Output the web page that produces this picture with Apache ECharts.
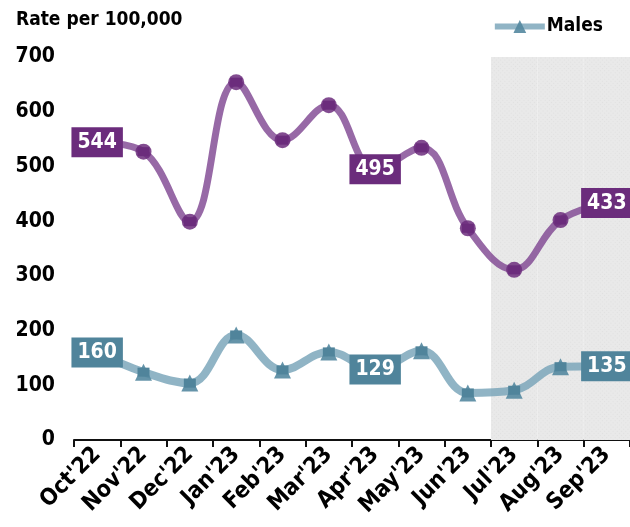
<!DOCTYPE html>
<html>
<head>
<meta charset="utf-8">
<script src="https://cdn.jsdelivr.net/npm/echarts@6/dist/echarts.min.js"></script>
<style>
  html, body { margin: 0; padding: 0; background: #fff; }
  #chart { width: 630px; height: 527px; }
</style>
</head>
<body>
<div id="chart"></div>
<script>
var months = ["Oct'22", "Nov'22", "Dec'22", "Jan'23", "Feb'23", "Mar'23", "Apr'23", "May'23", "Jun'23", "Jul'23", "Aug'23", "Sep'23"];
var females = [544, 527, 399, 654, 548, 612, 495, 534, 387, 311, 402, 433];
var males = [160, 124, 104, 192, 128, 161, 129, 163, 86, 91, 134, 135];
// months that get the grey band (Jul-Sep)
var shaded = [null, null, null, null, null, null, null, null, null, 700, 700, 700];
var labelled = [0, 6, 11];

var font = '"DejaVu Sans Condensed", "Liberation Sans Narrow", sans-serif';

function labelFor(color) {
  return {
    show: true,
    position: 'inside',
    formatter: function (p) {
      return labelled.indexOf(p.dataIndex) >= 0 ? p.value : '';
    },
    backgroundColor: color,
    color: '#fff',
    fontFamily: font,
    fontWeight: 'bold',
    fontSize: 21,
    padding: [5, 6, 4, 6]
  };
}

var chart = echarts.init(document.getElementById('chart'));
chart.setOption({
  animation: false,
  title: {
    text: 'Rate per 100,000',
    left: 11,
    top: 6,
    textStyle: { fontFamily: font, fontWeight: 'bold', fontSize: 19, color: '#000' }
  },
  legend: {
    data: ['Males'],
    right: 22,
    top: 12,
    itemWidth: 50,
    itemHeight: 16,
    itemGap: 4,
    lineStyle: { width: 6 },
    textStyle: { fontFamily: font, fontWeight: 'bold', fontSize: 19, color: '#000', padding: [0, 0, 0, -3] }
  },
  grid: { left: 74, right: 0, top: 57, bottom: 87 },
  xAxis: {
    type: 'category',
    data: months,
    boundaryGap: true,
    axisLine: { lineStyle: { color: '#111', width: 2 } },
    axisTick: { show: true, length: 7, lineStyle: { color: '#111', width: 2 } },
    axisLabel: {
      rotate: 45,
      interval: 0,
      margin: 11,
      fontFamily: font,
      fontWeight: 'bold',
      fontSize: 23,
      color: '#000'
    }
  },
  yAxis: {
    type: 'value',
    min: 0,
    max: 700,
    interval: 100,
    axisLine: { show: false },
    axisTick: { show: false },
    splitLine: { show: false },
    axisLabel: {
      margin: 19,
      fontFamily: font,
      fontWeight: 'bold',
      fontSize: 21,
      color: '#000'
    }
  },
  series: [
    {
      name: 'shade',
      type: 'bar',
      data: shaded,
      barWidth: '100%',
      silent: true,
      z: 0,
      itemStyle: {
        color: '#e9e9e9',
        decal: {
          symbol: 'rect',
          symbolSize: 1,
          color: 'rgba(205,205,205,0.35)',
          dashArrayX: [1, 2],
          dashArrayY: [1, 2],
          rotation: Math.PI / 4
        }
      }
    },
    {
      name: 'Females',
      type: 'line',
      data: females,
      smooth: 0.4,
      z: 3,
      symbol: 'circle',
      symbolSize: 16,
      lineStyle: { color: 'rgba(128, 72, 146, 0.82)', width: 7 },
      itemStyle: { color: 'rgba(108, 45, 124, 0.85)' },
      label: labelFor('#6b2c7c')
    },
    {
      name: 'Males',
      type: 'line',
      data: males,
      smooth: 0.4,
      z: 3,
      symbol: 'triangle',
      symbolSize: 17,
      lineStyle: { color: 'rgba(120, 163, 184, 0.82)', width: 8 },
      itemStyle: { color: 'rgba(84, 136, 160, 0.9)' },
      label: labelFor('#50849b')
    }
  ]
});
</script>
</body>
</html>
